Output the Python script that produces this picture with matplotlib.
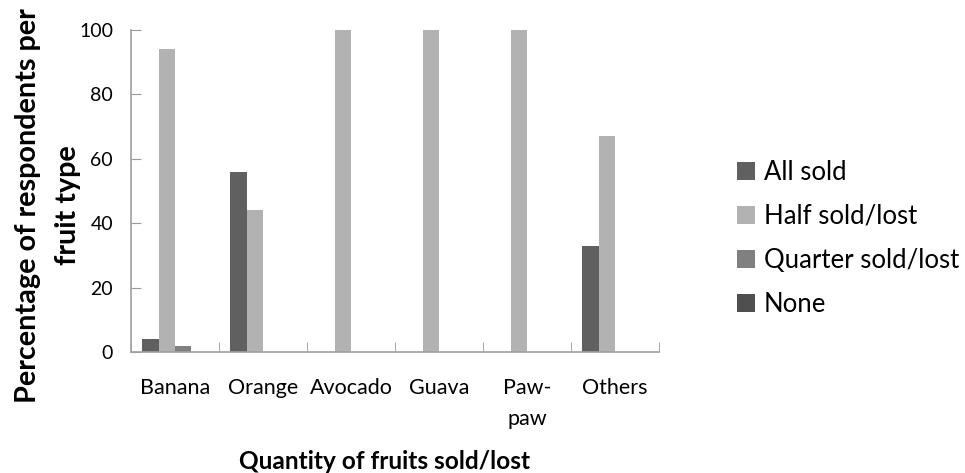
import numpy as np
import matplotlib.pyplot as plt
from matplotlib.patches import Patch

plt.rcParams['font.family'] = ['Lato', 'DejaVu Sans']

fruits = ['Banana', 'Orange', 'Avocado', 'Guava', 'Paw-\npaw', 'Others']
series = ['All sold', 'Half sold/lost', 'Quarter sold/lost', 'None']
all_sold = [4, 56, 0, 0, 0, 33]
half_sold = [94, 44, 100, 100, 100, 67]
quarter_sold = [2, 0, 0, 0, 0, 0]
none_sold = [0, 0, 0, 0, 0, 0]
colors = ['#606060', '#b2b2b2', '#808080', '#4f4f4f']

fig = plt.figure(figsize=(9.65, 4.73), dpi=100)
ax = fig.add_axes([0.1358, 0.2558, 0.547, 0.681])

x = np.arange(len(fruits))
w = 0.185
values = [all_sold, half_sold, quarter_sold, none_sold]
for i, (vals, c) in enumerate(zip(values, colors)):
    ax.bar(x + (i - 1.5) * w, vals, width=w, color=c, linewidth=0)

ax.set_xlim(-0.5, len(fruits) - 0.5)
ax.set_ylim(0, 100)
ax.set_yticks([0, 20, 40, 60, 80, 100])
ax.set_xticks(x)
ax.set_xticklabels(fruits, fontsize=15.5, linespacing=1.7)
ax.set_xticks(np.arange(len(fruits) + 1) - 0.5, minor=True)
ax.tick_params(axis='x', which='major', length=0, pad=18.5)
ax.tick_params(axis='x', which='minor', direction='in', length=7, color='#999999')
ax.tick_params(axis='y', direction='in', length=7, color='#999999', labelsize=14, pad=13)

for s in ['top', 'right']:
    ax.spines[s].set_visible(False)
for s in ['left', 'bottom']:
    ax.spines[s].set_color('#a0a0a0')
    ax.spines[s].set_linewidth(1.2)

# axis titles placed on the figure to match the original layout
fig.text(0.050, 0.5655, 'Percentage of respondents per\nfruit type', rotation=90,
         fontsize=20.7, fontweight='bold', ha='center', va='center',
         multialignment='center', linespacing=1.65)
fig.text(0.398, 0.0235, 'Quantity of fruits sold/lost', fontsize=17.6,
         fontweight='bold', ha='center', va='center')

handles = [Patch(facecolor=c, edgecolor='none') for c in colors]
fig.legend(handles, series, loc='center left', bbox_to_anchor=(0.7637, 0.496),
           frameon=False, fontsize=18.5, handlelength=0.7, handleheight=0.7,
           handletextpad=0.35, labelspacing=0.74, borderpad=0, borderaxespad=0)

fig.savefig('out.png', dpi=100)
